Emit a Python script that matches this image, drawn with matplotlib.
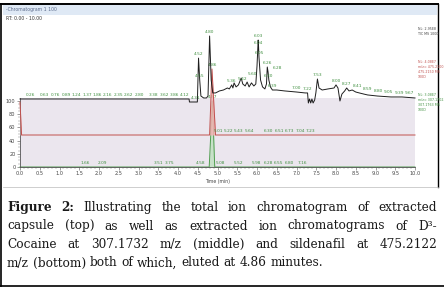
import numpy as np
import matplotlib
matplotlib.use("Agg")
import matplotlib.pyplot as plt
from matplotlib.lines import Line2D
from matplotlib.patches import Rectangle
from matplotlib.ticker import MultipleLocator

W, H = 444, 287

# ---------------- data ----------------
# Top panel: total ion chromatogram (relative abundance)
tic_time = [0.00, 4.28, 4.29, 4.49, 4.52, 4.55, 4.58, 4.65, 4.72, 4.76, 4.80, 4.84, 4.88,
            4.95, 5.05, 5.15, 5.25, 5.30, 5.36, 5.39, 5.42, 5.47, 5.53, 5.60, 5.64, 5.70,
            5.75, 5.80, 5.86, 5.92, 5.97, 6.00, 6.03, 6.04, 6.05, 6.09, 6.14, 6.20, 6.24,
            6.26, 6.28, 6.30, 6.34, 6.39, 6.50, 6.70, 7.00, 7.22, 7.28, 7.30, 7.33, 7.36,
            7.39, 7.42, 7.46, 7.49, 7.53, 7.57, 7.65, 7.80, 7.95, 8.00, 8.05, 8.10, 8.15,
            8.22, 8.27, 8.33, 8.41, 8.50, 8.59, 8.70, 8.80, 9.05, 9.39, 9.67, 10.00]
tic_abund = [6.0, 6.0, 1.5, 1.5, 67.0, 34.0, 10.4, 7.5, 7.5, 10.4, 100.0, 34.0, 15.0,
             15.0, 18.0, 19.4, 22.4, 21.0, 27.0, 22.4, 30.0, 24.0, 27.0, 37.3, 28.4, 25.4,
             31.3, 24.0, 30.0, 25.4, 28.4, 55.0, 94.0, 83.6, 68.7, 34.3, 24.0, 21.0, 28.4,
             53.7, 46.3, 34.3, 24.0, 19.4, 19.4, 18.0, 16.4, 15.0, 15.0, 0.0, 6.0, 0.0,
             6.0, 0.0, 4.5, 15.0, 35.8, 22.4, 19.4, 21.0, 22.4, 27.0, 22.4, 3.0, 13.4,
             18.0, 22.4, 18.0, 19.4, 16.4, 15.0, 13.4, 12.0, 10.4, 9.0, 9.0, 7.5]
tic_label_times = [0.26, 0.63, 0.76, 0.89, 1.24, 1.37, 1.86, 2.16, 2.35, 2.62, 2.80, 3.38,
                   3.62, 3.86, 4.12, 4.31, 4.52, 4.55, 4.80, 5.36, 5.42, 5.60, 6.03, 6.04,
                   6.05, 6.26, 6.28, 6.30, 6.39, 7.00, 7.22, 7.53, 8.00, 8.27, 8.41, 8.59,
                   8.80, 9.05, 9.39, 9.67]

# Middle panel: m/z 475.21 (sildenafil)
mid_time = [0.00, 0.04, 4.80, 4.86, 4.95, 10.00]
mid_abund = [50, 0, 0, 100, 0, 0]
mid_label_times = [4.86, 5.01, 5.22, 5.43, 5.64, 6.30, 6.51, 6.73, 7.04, 7.23]

# Bottom panel: m/z 307.17 (D3-cocaine)
bot_time = [0.00, 4.79, 4.87, 4.93, 10.00]
bot_abund = [0, 0, 100, 0, 0]
bot_label_times = [1.66, 2.09, 3.51, 3.75, 4.58, 4.87, 5.08, 5.52, 5.98, 6.28, 6.55, 6.80, 7.16]

x_ticks = np.arange(0, 10.01, 0.5)
y_ticks = [0, 20, 40, 60, 80, 100]

top_info = ["NL: 2.95E8", "TIC MS 100D"]
mid_info = ["NL: 4.08E7", "m/z= 475.2100-", "475.2150 MS", "100D"]
bot_info = ["NL: 3.08E7", "m/z= 307.1702-", "307.1763 MS", "100D"]

caption_lines = [
    [("Figure", True), ("2:", True), ("Illustrating", False), ("the", False), ("total", False),
     ("ion", False), ("chromatogram", False), ("of", False), ("extracted", False)],
    [("capsule", False), ("(top)", False), ("as", False), ("well", False), ("as", False),
     ("extracted", False), ("ion", False), ("chromatograms", False), ("of", False), ("D³-", False)],
    [("Cocaine", False), ("at", False), ("307.1732", False), ("m/z", False), ("(middle)", False),
     ("and", False), ("sildenafil", False), ("at", False), ("475.2122", False)],
    [("m/z", False), ("(bottom)", False), ("both", False), ("of", False), ("which,", False),
     ("eluted", False), ("at", False), ("4.86", False), ("minutes.", False)],
]

# ---------------- figure ----------------
fig = plt.figure(figsize=(W / 100, H / 100), dpi=100)
fig.patch.set_facecolor("white")


def fx(x):
    return x / W


def fy(y):
    return 1 - y / H


def add_panel(y0_px, span_px, ylim_top=100):
    left = fx(20)
    width = 395 / W
    height = span_px * ylim_top / 100 / H
    ax = fig.add_axes([left, fy(y0_px), width, height])
    ax.set_xlim(0, 10)
    ax.set_ylim(0, ylim_top)
    return ax


LAV = "#ebe6ee"
GREEN_TXT = "#3f8f3f"
RED = "#c0504d"
GREEN = "#4f9d4f"

ax_bot = add_panel(167, 66, 104)
ax_mid = add_panel(135, 66, 100)
ax_top = add_panel(103, 67, 100)

ax_bot.set_facecolor(LAV)
for ax in (ax_mid, ax_top):
    ax.patch.set_alpha(0)
    ax.axis("off")

# bottom axis styling
for s in ("top", "right"):
    ax_bot.spines[s].set_visible(False)
for s in ("left", "bottom"):
    ax_bot.spines[s].set_color("#555555")
    ax_bot.spines[s].set_linewidth(0.6)
ax_bot.set_xticks(x_ticks)
ax_bot.set_xticklabels([f"{v:.1f}" for v in x_ticks])
ax_bot.xaxis.set_minor_locator(MultipleLocator(0.1))
ax_bot.set_yticks(y_ticks)
ax_bot.yaxis.set_minor_locator(MultipleLocator(5))
ax_bot.tick_params(axis="both", which="major", labelsize=3.6, length=2, width=0.4,
                   colors="#555555", pad=1.2, labelcolor="#444444")
ax_bot.tick_params(axis="both", which="minor", length=1.2, width=0.3, colors="#777777")
ax_bot.set_xlabel("Time (min)", fontsize=3.3, color="#444444", labelpad=1.5)

# traces
ax_top.plot(tic_time, tic_abund, color="#1e1e1e", lw=0.7, clip_on=False)
ax_mid.fill_between(mid_time, mid_abund, 0, color="#f2b3b3", alpha=0.85, lw=0)
ax_mid.plot(mid_time, mid_abund, color=RED, lw=0.7, clip_on=False)
ax_bot.fill_between(bot_time, bot_abund, 0, color="#bfe0bf", alpha=0.8, lw=0)
ax_bot.plot(bot_time, bot_abund, color=GREEN, lw=0.7, clip_on=False)


def label_peaks(ax, times, xs, ys, fs=3.1, minsep=10.5):
    placed = []
    for t in sorted(times):
        v = float(np.interp(t, xs, ys))
        px, py = ax.transData.transform((t, v))
        shift = 0.0
        for (qx, qy) in placed:
            if abs(qy - py) < 6 and (px + shift) - qx < minsep:
                shift = qx + minsep - px
        placed.append((px + shift, py))
        ax.annotate(f"{t:.2f}", xy=(t, v), xytext=(shift, 2), textcoords="offset pixels",
                    ha="center", va="bottom", fontsize=fs, color=GREEN_TXT,
                    annotation_clip=False)


label_peaks(ax_top, tic_label_times, tic_time, tic_abund)
label_peaks(ax_mid, mid_label_times, mid_time, mid_abund)
label_peaks(ax_bot, bot_label_times, bot_time, bot_abund)

# right-hand info labels
for lines, y0, col in ((top_info, 29, "#444444"), (mid_info, 62, RED), (bot_info, 95, GREEN_TXT)):
    for i, s in enumerate(lines):
        fig.text(fx(418), fy(y0 + i * 5), s, fontsize=2.3, color=col, ha="left", va="center")

# window chrome
fig.add_artist(Rectangle((fx(3), fy(15)), fx(434), 10 / H, transform=fig.transFigure,
                         facecolor="#dfe9f5", edgecolor="none"))
fig.text(fx(6), fy(10), "-Chromatogram 1 100", fontsize=3.3, color="#5b6b8c", va="center")
fig.text(fx(6), fy(19), "RT: 0.00 - 10.00", fontsize=3.3, color="#333333", va="center")


def line(xs, ys, lw=1.0, color="black"):
    fig.add_artist(Line2D([fx(x) for x in xs], [fy(y) for y in ys], lw=lw, color=color,
                          transform=fig.transFigure))


line([0, 437.5], [3.8, 3.8], lw=1.4)
line([437.5, 437.5], [3.8, 187], lw=1.0)
line([2.5, 437.5], [187, 187], lw=0.5, color="#bbbbbb")
line([1.2, 1.2], [3.8, 286], lw=1.2)
line([0, 444], [285.8, 285.8], lw=1.2)

# caption (justified)
renderer = fig.canvas.get_renderer()
CAP_FS = 8.7
CAP_FAM = "DejaVu Serif"
x_left, x_right = 7.0, 437.0
baselines = [211, 229.5, 248, 266.5]

probe1 = fig.text(0, 0, "a a", fontsize=CAP_FS, family=CAP_FAM)
probe2 = fig.text(0, 0, "aa", fontsize=CAP_FS, family=CAP_FAM)
space_w = probe1.get_window_extent(renderer).width - probe2.get_window_extent(renderer).width
probe1.remove()
probe2.remove()

for li, words in enumerate(caption_lines):
    texts = []
    for w, bold in words:
        t = fig.text(0, fy(baselines[li]), w, fontsize=CAP_FS, family=CAP_FAM,
                     weight="bold" if bold else "normal", color="#1a1a1a",
                     ha="left", va="baseline")
        texts.append(t)
    widths = [t.get_window_extent(renderer).width for t in texts]
    if li < len(caption_lines) - 1:
        gap = (x_right - x_left - sum(widths)) / (len(words) - 1)
    else:
        gap = space_w
    x = x_left
    for t, wd in zip(texts, widths):
        t.set_x(fx(x))
        x += wd + gap

fig.savefig("out.png", dpi=100, facecolor="white")
